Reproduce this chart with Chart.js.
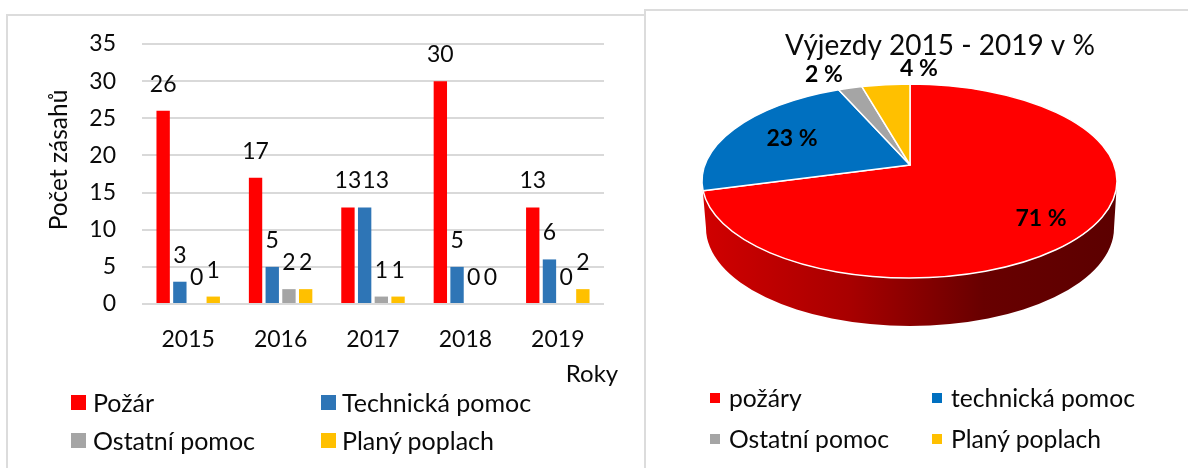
<!DOCTYPE html>
<html>
<head>
<meta charset="utf-8">
<script src="https://cdn.jsdelivr.net/npm/chart.js@4"></script>
<style>
html,body{margin:0;padding:0;background:#fff;width:1188px;height:468px;overflow:hidden;font-family:Lato,sans-serif;color:#0a0a0a}
canvas{position:absolute;top:0}
.line{position:absolute;background:#dcdcdc}
.lg{position:absolute;white-space:nowrap;line-height:26px;height:26px}
.sw{position:absolute}
</style>
</head>
<body>
<div class="line" style="left:6px;top:14px;width:640px;height:2px"></div>
<div class="line" style="left:6px;top:14px;width:2px;height:454px"></div>
<div class="line" style="left:644px;top:9px;width:544px;height:2px"></div>
<div class="line" style="left:644px;top:9px;width:2px;height:459px"></div>
<canvas id="bars" width="640" height="468" style="left:0;width:640px;height:468px"></canvas>
<canvas id="pie" width="496" height="468" style="left:692px;width:496px;height:468px"></canvas>
<div id="legends"></div>
<script>
const years = ['2015','2016','2017','2018','2019'];
const fire = [26,17,13,30,13];
const technical = [3,5,13,5,6];
const other = [0,2,1,0,0];
const falseAlarm = [1,2,1,0,2];
const barNames = ['Požár','Technická pomoc','Ostatní pomoc','Planý poplach'];
const barColors = ['#ff0000','#2e75b6','#a5a5a5','#ffc000'];
const pieTitle = 'Výjezdy 2015 - 2019 v %';
const pieNames = ['požáry','technická pomoc','Ostatní pomoc','Planý poplach'];
const pieValues = [99,32,3,6];
const pieColors = ['#ff0000','#0070c0','#a5a5a5','#ffc000'];
const yTicks = [0,5,10,15,20,25,30,35];
const yTitle = 'Počet zásahů';
const xTitle = 'Roky';

const FONT = 'Lato, sans-serif';
const TEXT = '#0a0a0a';
Chart.defaults.animation = false;
Chart.defaults.font.family = FONT;
Chart.defaults.color = TEXT;

const barLabels = {
  id:'barLabels',
  afterDatasetsDraw(c){
    const x = c.ctx; x.save();
    x.font = '23px '+FONT; x.fillStyle = TEXT; x.textAlign='center'; x.textBaseline='alphabetic';
    c.data.datasets.forEach((d,i)=>{
      c.getDatasetMeta(i).data.forEach((el,j)=>{
        /* the second "13" of 2017 sits beside the first one in the reference */
        const shift = (i===1 && j===2) ? 11 : 0;
        x.fillText(String(d.data[j]),el.x+shift,el.y-19);
      });
    });
    x.font = '24px '+FONT;
    x.fillText(xTitle,592,382);
    x.translate(59,160); x.rotate(-Math.PI/2);
    x.textBaseline='middle';
    x.font = '24.5px '+FONT;
    x.fillText(yTitle,0,0);
    x.restore();
  }
};

new Chart(document.getElementById('bars'),{
  type:'bar',
  data:{labels:years,datasets:[fire,technical,other,falseAlarm].map((v,i)=>({
    label:barNames[i],data:v,backgroundColor:barColors[i],
    categoryPercentage:0.723,barPercentage:0.8}))},
  options:{
    responsive:false,
    layout:{padding:{left:0,right:36,top:44,bottom:0}},
    plugins:{legend:{display:false},title:{display:false},tooltip:{enabled:false}},
    scales:{
      x:{
        grid:{display:false},border:{display:false},
        ticks:{font:{size:23},color:TEXT,padding:14,maxRotation:0},
        afterFit(s){s.height=164;}
      },
      y:{
        min:0,max:35,
        afterBuildTicks(s){s.ticks=yTicks.map(v=>({value:v}));},
        grid:{color:'#d9d9d9',lineWidth:2,drawTicks:false},border:{display:false},
        ticks:{font:{size:23},color:TEXT,padding:26},
        afterFit(s){s.width=142;}
      }
    }
  },
  plugins:[barLabels]
});

/* Pie seen in perspective: the ellipse of the top face and the apex do not share a centre. */
const OX = 692;
const top3d = {cx:909.5-OX,cy:181,rx:207.5,ry:97};
const low3d = {cx:910-OX,cy:228,rx:204,ry:98};
const apex = {x:910-OX,y:165};
const tilt = 0.45;
function rim(theta){
  const dx=Math.sin(theta), dy=-Math.cos(theta)*tilt;
  const ex=(apex.x-top3d.cx)/top3d.rx, ey=(apex.y-top3d.cy)/top3d.ry;
  const fx=dx/top3d.rx, fy=dy/top3d.ry;
  const A=fx*fx+fy*fy, B=2*(ex*fx+ey*fy), C=ex*ex+ey*ey-1;
  const t=(-B+Math.sqrt(B*B-4*A*C))/(2*A);
  return Math.atan2(ey+t*fy,ex+t*fx);
}
const pieLabelAt = [[1041-OX,219],[792-OX,139],[824-OX,75],[919-OX,69]];
const pie3d = {
  id:'pie3d',
  beforeDatasetDraw(c){
    const x=c.ctx;
    x.save();
    const g=x.createLinearGradient(706-OX,0,1114-OX,0);
    g.addColorStop(0,'#d00000');g.addColorStop(0.35,'#a80000');g.addColorStop(0.68,'#680000');g.addColorStop(1,'#5c0000');
    x.fillStyle=g;
    x.beginPath();
    x.ellipse(top3d.cx,top3d.cy,top3d.rx,top3d.ry,0,0,Math.PI);
    x.ellipse(low3d.cx,low3d.cy,low3d.rx,low3d.ry,0,Math.PI,0,true);
    x.closePath();x.fill();
    c.getDatasetMeta(0).data.forEach((el,i)=>{
      const a=rim(el.startAngle+Math.PI/2), b=rim(el.endAngle+Math.PI/2);
      x.beginPath();
      x.moveTo(apex.x,apex.y);
      x.ellipse(top3d.cx,top3d.cy,top3d.rx,top3d.ry,0,a,b);
      x.closePath();
      x.fillStyle=pieColors[i];x.fill();
      x.strokeStyle='#fff';x.lineWidth=1.5;x.lineJoin='round';x.stroke();
    });
    const total=pieValues.reduce((p,v)=>p+v,0);
    x.font='bold 23px '+FONT;x.fillStyle='#000';x.textAlign='center';x.textBaseline='middle';
    pieValues.forEach((v,i)=>x.fillText(Math.round(v/total*100)+' %',pieLabelAt[i][0],pieLabelAt[i][1]));
    x.restore();
    return false;
  }
};

new Chart(document.getElementById('pie'),{
  type:'pie',
  data:{labels:pieNames,datasets:[{data:pieValues,backgroundColor:pieColors,borderColor:'#fff',borderWidth:1.5}]},
  options:{
    responsive:false,
    layout:{padding:{bottom:100}},
    plugins:{
      legend:{display:false},tooltip:{enabled:false},
      title:{display:true,text:pieTitle,color:TEXT,font:{size:28,weight:'normal'},padding:{top:29,bottom:10}}
    }
  },
  plugins:[pie3d]
});

/* HTML legends in a two-column grid */
function addLegend(names,colors,xs,textXs,ys,size,fs){
  const host=document.getElementById('legends');
  names.forEach((n,i)=>{
    const col=i%2,row=i>>1;
    const s=document.createElement('div');s.className='sw';
    s.style.cssText=`left:${xs[col]}px;top:${ys[row]-size/2}px;width:${size}px;height:${size}px;background:${colors[i]}`;
    host.appendChild(s);
    const t=document.createElement('div');t.className='lg';t.textContent=n;
    t.style.cssText=`left:${textXs[col]}px;top:${ys[row]-13}px;font-size:${fs}px`;
    host.appendChild(t);
  });
}
addLegend(barNames,barColors,[71,321],[93,342],[402,440],15,25);
addLegend(pieNames,pieColors,[710,932],[729,951],[398,439],10,24.7);
</script>
</body>
</html>
